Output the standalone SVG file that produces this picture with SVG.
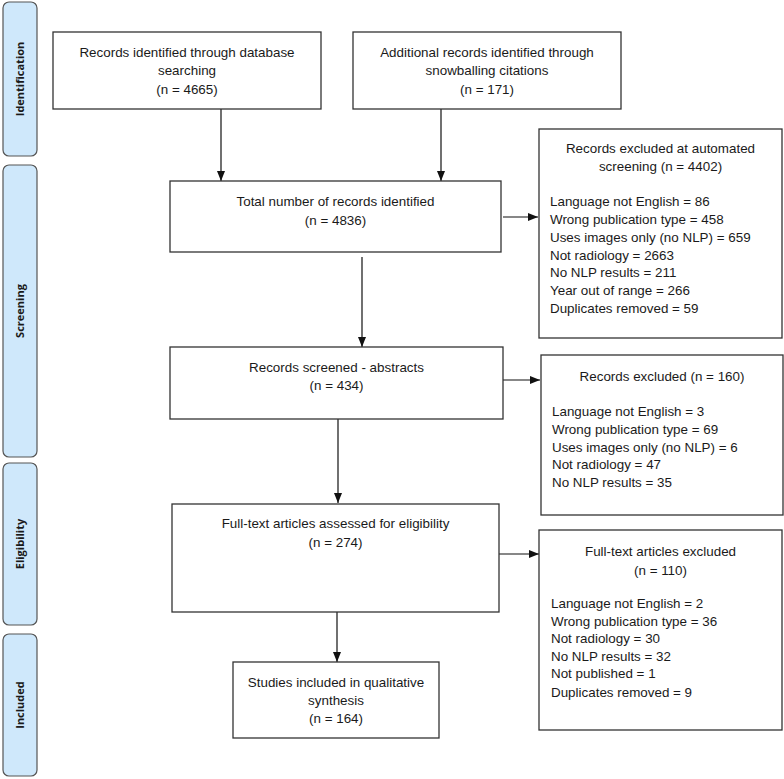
<svg xmlns="http://www.w3.org/2000/svg" width="784" height="779" viewBox="0 0 784 779">
<style>
.box{fill:#fff;stroke:#333;stroke-width:1.3}
.side{fill:#cfe8fb;stroke:#555;stroke-width:1.2}
.t{font-family:"Liberation Sans",Arial,sans-serif;font-size:13.4px;fill:#1a1a1a}
.c{text-anchor:middle}
.s{font-family:"Open Sans","DejaVu Sans",sans-serif;font-size:11px;font-weight:bold;fill:#1a1a1a;text-anchor:middle}
.ln{stroke:#111;stroke-width:1.2;fill:none;marker-end:url(#ah)}
</style>
<defs>
<marker id="ah" markerUnits="userSpaceOnUse" markerWidth="10" markerHeight="10" viewBox="0 0 10 10" refX="10" refY="5" orient="auto">
<path d="M0,1 L10,5 L0,9 Z" fill="#111"/>
</marker>
</defs>
<rect width="784" height="779" fill="#fff"/>
<g id="phase-identification"><rect class="side" x="3" y="2" width="34" height="154" rx="6"/><text class="s" transform="translate(24,79) rotate(-90)">Identification</text></g>
<g id="phase-screening"><rect class="side" x="3" y="165" width="34" height="292" rx="6"/><text class="s" transform="translate(24,311) rotate(-90)">Screening</text></g>
<g id="phase-eligibility"><rect class="side" x="3" y="463" width="34" height="162" rx="6"/><text class="s" transform="translate(24,544) rotate(-90)">Eligibility</text></g>
<g id="phase-included"><rect class="side" x="3" y="634" width="34" height="142" rx="6"/><text class="s" transform="translate(24,705) rotate(-90)">Included</text></g>

<g id="connectors">
<path class="ln" d="M221,109 V181"/>
<path class="ln" d="M441,109 V181"/>
<path class="ln" d="M362,257 V347"/>
<path class="ln" d="M338,419 V503"/>
<path class="ln" d="M337,612 V662"/>
<path class="ln" d="M503,217 H538"/>
<path class="ln" d="M503,380 H540"/>
<path class="ln" d="M499,554 H539"/>
</g>

<g id="db-records"><rect class="box" x="53" y="32" width="268" height="77"/>
<text class="t c" x="187" y="57">Records identified through database</text>
<text class="t c" x="187" y="75">searching</text>
<text class="t c" x="187" y="94">(n = 4665)</text></g>

<g id="snowball-records"><rect class="box" x="353" y="32" width="268" height="77"/>
<text class="t c" x="487" y="57">Additional records identified through</text>
<text class="t c" x="487" y="75">snowballing citations</text>
<text class="t c" x="487" y="94">(n = 171)</text></g>

<g id="total-records"><rect class="box" x="170" y="181" width="331" height="71"/>
<text class="t c" x="335.5" y="206">Total number of records identified</text>
<text class="t c" x="335.5" y="225">(n = 4836)</text></g>

<g id="auto-excluded"><rect class="box" x="539" y="129" width="243" height="209"/>
<text class="t c" x="660.5" y="153">Records excluded at automated</text>
<text class="t c" x="660.5" y="171">screening (n = 4402)</text>
<text class="t" x="550" y="206">Language not English  = 86</text>
<text class="t" x="550" y="224">Wrong publication type = 458</text>
<text class="t" x="550" y="242">Uses images only (no NLP) = 659</text>
<text class="t" x="550" y="260">Not radiology = 2663</text>
<text class="t" x="550" y="277">No NLP results = 211</text>
<text class="t" x="550" y="295">Year out of range = 266</text>
<text class="t" x="550" y="313">Duplicates removed = 59</text></g>

<g id="abstracts-screened"><rect class="box" x="170" y="347" width="333" height="72"/>
<text class="t c" x="336.5" y="372">Records screened - abstracts</text>
<text class="t c" x="336.5" y="390">(n = 434)</text></g>

<g id="abstracts-excluded"><rect class="box" x="541" y="355" width="242" height="160"/>
<text class="t c" x="662" y="381">Records excluded (n = 160)</text>
<text class="t" x="552" y="416">Language not English  = 3</text>
<text class="t" x="552" y="434">Wrong publication type = 69</text>
<text class="t" x="552" y="452">Uses images only (no NLP) = 6</text>
<text class="t" x="552" y="469">Not radiology = 47</text>
<text class="t" x="552" y="487">No NLP results = 35</text></g>

<g id="fulltext-assessed"><rect class="box" x="172" y="504" width="327" height="108"/>
<text class="t c" x="335.5" y="528">Full-text articles assessed for eligibility</text>
<text class="t c" x="335.5" y="547">(n = 274)</text></g>

<g id="fulltext-excluded"><rect class="box" x="539" y="530" width="243" height="200"/>
<text class="t c" x="660.5" y="556">Full-text articles excluded</text>
<text class="t c" x="660.5" y="575">(n = 110)</text>
<text class="t" x="551" y="608">Language not English = 2</text>
<text class="t" x="551" y="626">Wrong publication type = 36</text>
<text class="t" x="551" y="643">Not radiology = 30</text>
<text class="t" x="551" y="661">No NLP results = 32</text>
<text class="t" x="551" y="678">Not published = 1</text>
<text class="t" x="551" y="697">Duplicates removed = 9</text></g>

<g id="studies-included"><rect class="box" x="233" y="662" width="206" height="76"/>
<text class="t c" x="336" y="687">Studies included in qualitative</text>
<text class="t c" x="336" y="705">synthesis</text>
<text class="t c" x="336" y="723">(n = 164)</text></g>
</svg>
